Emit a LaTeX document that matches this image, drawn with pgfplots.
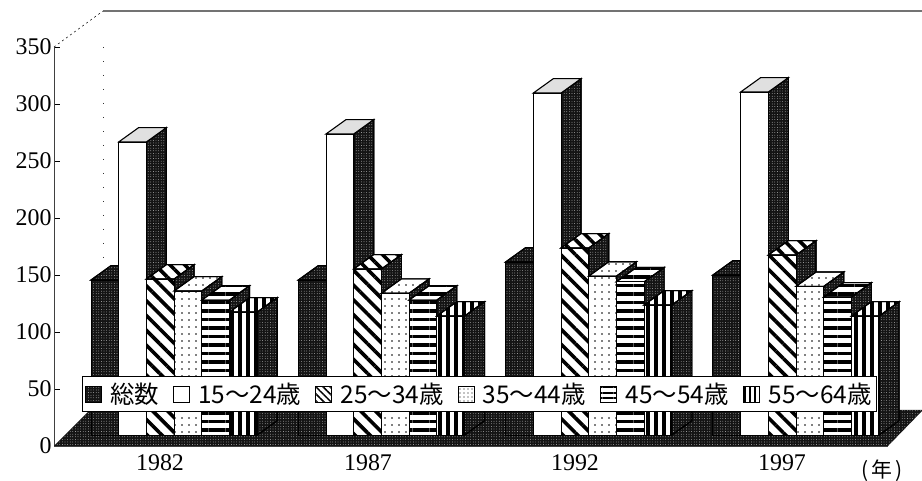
\documentclass[border=0pt]{standalone}
\usepackage{fontspec}
\setmainfont{Liberation Serif}
\newfontfamily\cjk{Noto Sans CJK JP}
\usepackage{pgfplots}
\pgfplotsset{compat=1.18}
\usetikzlibrary{patterns.meta}

% Surface styles of the six series
\tikzset{
  darkfill/.style={fill=black!92,postaction={pattern={Dots[radius=0.35bp,distance=2.6bp]},pattern color=white}},
  blankfill/.style={fill=white},
  diagfill/.style={fill=white,postaction={pattern={Lines[angle=-45,distance=10.5bp,line width=3.6bp]},pattern color=black}},
  dotfill/.style={fill=white,postaction={pattern={Dots[radius=0.8bp,distance=7bp]},pattern color=black}},
  horizfill/.style={fill=white,postaction={pattern={Lines[angle=0,distance=8.5bp,line width=3.4bp]},pattern color=black}},
  vertfill/.style={fill=white,postaction={pattern={Lines[angle=90,distance=8bp,line width=3.2bp]},pattern color=black}},
  speckfill/.style={fill=black!12},
  swatchdiag/.style={fill=white,postaction={pattern={Lines[angle=-45,distance=5bp,line width=1.5bp]},pattern color=black}},
  swatchdot/.style={fill=white,postaction={pattern={Dots[radius=0.7bp,distance=4bp]},pattern color=black}},
  swatchhoriz/.style={fill=white,postaction={pattern={Lines[angle=0,distance=5.5bp,line width=2bp]},pattern color=black}},
  swatchvert/.style={fill=white,postaction={pattern={Lines[angle=90,distance=5bp,line width=2bp]},pattern color=black}},
}

% One 3-D column: left edge, height, front style, top style
\newcommand{\column}[4]{%
  \pgfmathsetmacro{\xa}{#1}%
  \pgfmathsetmacro{\xb}{#1+27.7}%
  \pgfmathsetmacro{\xc}{#1+27.7+20}%
  \pgfmathsetmacro{\xd}{#1+20}%
  \pgfmathsetmacro{\ya}{#2}%
  \pgfmathsetmacro{\yb}{#2+12.6}%
  \addplot[forget plot,draw=black,line width=1.1pt,darkfill]
    coordinates {(\xb,9.6)(\xc,22.2)(\xc,\yb)(\xb,\ya)} -- cycle;
  \addplot[forget plot,draw=black,line width=1.1pt,#4]
    coordinates {(\xa,\ya)(\xd,\yb)(\xc,\yb)(\xb,\ya)} -- cycle;
  \addplot[forget plot,draw=black,line width=0.9pt,#3]
    coordinates {(\xa,9.6)(\xb,9.6)(\xb,\ya)(\xa,\ya)} -- cycle;
}
% One year's group of six columns
\newcommand{\yeargroup}[7]{%
  \column{#1}{#2}{darkfill}{darkfill}%
  \column{#1+27.7}{#3}{blankfill}{speckfill}%
  \column{#1+55.4}{#4}{diagfill}{diagfill}%
  \column{#1+83.1}{#5}{dotfill}{dotfill}%
  \column{#1+110.8}{#6}{horizfill}{horizfill}%
  \column{#1+138.5}{#7}{vertfill}{vertfill}%
}

\begin{document}
\begin{tikzpicture}[x=1bp,y=1bp]
\useasboundingbox (0,0) rectangle (922,481);
\begin{axis}[
  at={(54bp,35bp)},anchor=south west,
  scale only axis,width=834bp,height=399bp,
  xmin=54,xmax=888,ymin=0,ymax=350,
  clip=false,
  axis y line=left,axis x line=bottom,
  axis line style={-,line width=0.5pt,black!75},
  tick align=inside,
  ytick={0,50,100,150,200,250,300,350},
  xtick={160,368,575,782},
  xticklabels={1982,1987,1992,1997},
  xtick style={draw=none},
  ytick style={black,line width=0.5pt},
  major tick length=6bp,
  tick label style={font=\fontsize{24}{24}\selectfont},
  /pgf/number format/assume math mode=true,
  yticklabel style={xshift=1bp},
  xticklabel style={yshift=-5bp},
  legend style={
    at={(axis cs:479.5,45.6)},anchor=center,
    draw=black,fill=white,line width=0.5pt,
    inner xsep=3bp,inner ysep=6bp,
    font=\cjk\fontsize{24.5}{24.5}\selectfont,
    nodes={inner ysep=0.5bp,inner xsep=2bp},
    legend columns=6,
    /tikz/every even column/.append style={column sep=12bp},
    /tikz/every odd column/.append style={column sep=6bp},
  },
  legend image code/.code={\draw[line width=1pt,#1] (0bp,-8bp) rectangle (16bp,8bp);},
  legend cell align=left,
]
% Wall and frame lines behind the columns
\addplot[forget plot,black!55,line width=1.3pt] coordinates {(103,381.6)(922,381.6)};
\addplot[forget plot,black,line width=0.5pt,dash pattern=on 2bp off 3bp] coordinates {(54,350)(103,381.6)};
\addplot[forget plot,black!80,line width=0.8pt,dash pattern=on 1bp off 13bp] coordinates {(103,350)(103,32)};
% Floor
\addplot[forget plot,draw=none,darkfill] coordinates {(54,0)(888,0)(923,31.6)(90,31.6)} -- cycle;

\yeargroup{91}{145.6}{266.7}{146.5}{136}{128}{117.5}
\yeargroup{298.3}{145.6}{273.7}{155.3}{134}{128}{114}
\yeargroup{505.6}{161.4}{309.6}{173.7}{149}{144}{123.7}
\yeargroup{712.9}{150}{310.5}{167.5}{140}{130.7}{114}

\addlegendimage{darkfill}
\addlegendentry{総数}
\addlegendimage{blankfill}
\addlegendentry{15～24歳}
\addlegendimage{swatchdiag}
\addlegendentry{25～34歳}
\addlegendimage{swatchdot}
\addlegendentry{35～44歳}
\addlegendimage{swatchhoriz}
\addlegendentry{45～54歳}
\addlegendimage{swatchvert}
\addlegendentry{55～64歳}

\node[font=\cjk\fontsize{21}{21}\selectfont,inner sep=0pt] at (axis cs:882,-21.9) {(\,年\,)};
\end{axis}
\end{tikzpicture}
\end{document}
